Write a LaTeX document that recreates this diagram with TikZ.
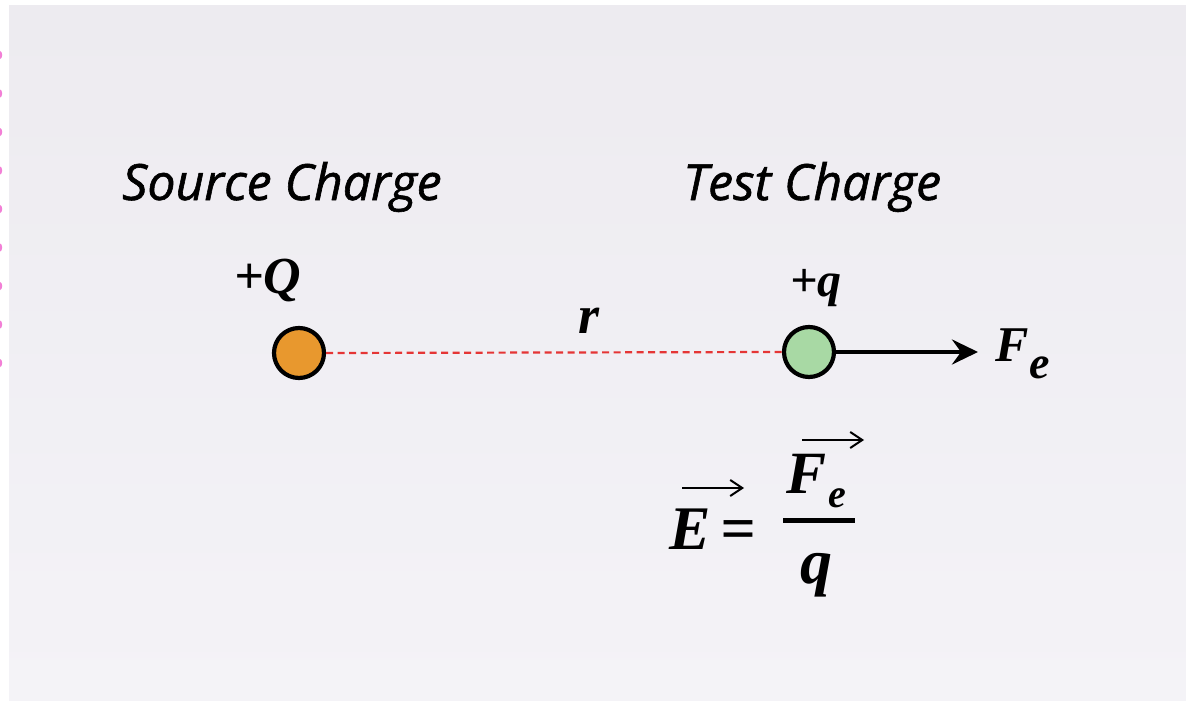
\documentclass[tikz,border=0pt]{standalone}
\usepackage{fontspec}
\newfontfamily\labelfont[FakeBold=1.2]{Open Sans}
\newfontfamily\symfont{Liberation Serif}
\usetikzlibrary{arrows.meta}
\definecolor{cardtop}{HTML}{EDEBF0}
\definecolor{cardbot}{HTML}{F4F3F7}
\definecolor{dotpink}{HTML}{F27FD6}
\definecolor{srcorange}{HTML}{E8982E}
\definecolor{testgreen}{HTML}{A8D9A4}
\definecolor{dashred}{HTML}{E53535}
\begin{document}
\begin{tikzpicture}[x=1pt,y=-1pt,
  title/.style={font=\labelfont\itshape\fontsize{50}{58}\selectfont, inner sep=0, anchor=base west},
  sym/.style={font=\symfont\bfseries\itshape\fontsize{#1}{#1}\selectfont, inner sep=0, anchor=base west},
  sym/.default=44,
  charge/.style={circle, draw=black, line width=4.2pt, minimum size=50pt, inner sep=0},
  vecarrow/.style={line width=2pt, -{Straight Barb[length=12pt,width=16pt,line width=2pt]}},
]
\useasboundingbox (0,0) rectangle (1186,701);
\fill[white] (0,0) rectangle (1186,701);
\shade[top color=cardtop, bottom color=cardbot] (9,6) rectangle (1186,701);
\foreach \yy in {55,93.5,132,170.5,209,247.5,286,324.5,363}
  \fill[dotpink] (0,\yy) ellipse [x radius=2.2pt, y radius=4pt];

% titles
\node[title] (srctitle) at (122,200) {Source Charge};
\node[title] (testtitle) at (683,200) {Test Charge};

% charge labels
\node[sym=52] (Qlabel) at (234,293) {+Q};
\node[sym=48] (qlabel) at (790,296) {+q};

% charges
\node[charge, fill=srcorange] (src) at (299,353) {};
\node[charge, fill=testgreen] (test) at (809,352) {};
\draw[dashred, line width=2.2pt, dash pattern=on 7pt off 4.5pt] (src.east) -- (test.west);
\node[sym=54] (rlabel) at (578,333) {r};

% force arrow
\coordinate (fetip) at (978,352);
\draw[line width=4pt, -{Stealth[length=26pt,width=25pt,inset=9pt]}] (test.east) -- (fetip);
\node[sym=50] (Flabel) at (995,361) {F};
\node[sym=46] (elabel) at (1029,378) {e};

% formula
\node[sym=62] (Evec) at (669,549) {E};
\node[sym=62] (eq) at (720,549) {=};
\node[sym=60] (Fnum) at (786,493) {F};
\node[sym=40] (enum) at (828,507) {e};
\node[sym=64] (qden) at (800,583) {q};
\coordinate (barL) at (783,520);
\coordinate (barR) at (855,520);
\draw[line width=5pt] (barL) -- (barR);
\coordinate (eaL) at (682,488);
\coordinate (eaR) at (744,488);
\draw[vecarrow] (eaL) -- (eaR);
\coordinate (faL) at (802,440);
\coordinate (faR) at (864,440);
\draw[vecarrow] (faL) -- (faR);
\end{tikzpicture}
\end{document}
